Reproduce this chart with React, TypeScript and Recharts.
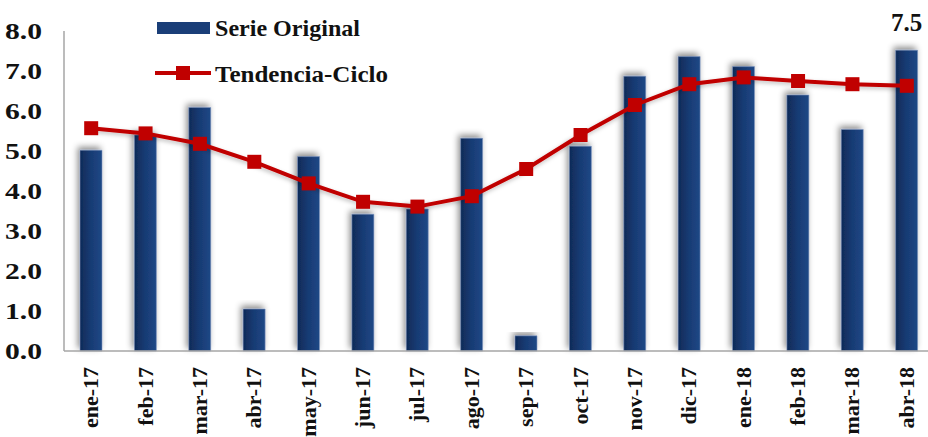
import React from "react";
import {
  ComposedChart,
  Bar,
  Line,
  XAxis,
  YAxis,
  Legend,
  LabelList,
} from "recharts";

const months = [
  "ene-17", "feb-17", "mar-17", "abr-17", "may-17", "jun-17", "jul-17", "ago-17",
  "sep-17", "oct-17", "nov-17", "dic-17", "ene-18", "feb-18", "mar-18", "abr-18",
];
const serieOriginal = [5.02, 5.4, 6.09, 1.05, 4.86, 3.42, 3.55, 5.32, 0.38, 5.12, 6.87, 7.36, 7.11, 6.4, 5.54, 7.52];
const tendenciaCiclo = [5.57, 5.44, 5.18, 4.73, 4.19, 3.73, 3.61, 3.87, 4.55, 5.4, 6.15, 6.67, 6.84, 6.75, 6.67, 6.63];
const yTicks = [0, 1, 2, 3, 4, 5, 6, 7, 8];

const data = months.map((m, i) => ({
  month: m,
  serie: serieOriginal[i],
  tendencia: tendenciaCiclo[i],
}));

const FONT = '"Liberation Serif", "Times New Roman", serif';
const NAVY = "#1a3e78";
const RED = "#c00000";

function XTick({ x, y, payload }: any) {
  return (
    <text
      transform={`translate(${x + 7},${y + 16}) rotate(-90)`}
      textAnchor="end"
      fontFamily={FONT}
      fontWeight="bold"
      fontSize={22}
      fill="#111"
    >
      {payload.value}
    </text>
  );
}

function YTick({ x, y, payload }: any) {
  return (
    <text
      x={x}
      y={y + 8}
      textAnchor="end"
      fontFamily={FONT}
      fontWeight="bold"
      fontSize={23}
      fill="#111"
      textLength={37}
      lengthAdjust="spacingAndGlyphs"
    >
      {Number(payload.value).toFixed(1)}
    </text>
  );
}

function SquareDot({ cx, cy }: any) {
  if (cx == null || cy == null) return null;
  return <rect x={cx - 7} y={cy - 7} width={14} height={14} fill={RED} />;
}

function LastLabel(props: any) {
  const { x, y, width, index, value } = props;
  if (index !== months.length - 1) return null;
  return (
    <text
      x={x + width / 2}
      y={y - 19}
      textAnchor="middle"
      fontFamily={FONT}
      fontWeight="bold"
      fontSize={25}
      fill="#111"
    >
      {Number(value).toFixed(1)}
    </text>
  );
}

function LegendBox() {
  return (
    <svg width={260} height={85} style={{ display: "block" }}>
      <rect x={7} y={12} width={53} height={12} fill={NAVY} />
      <text
        x={65}
        y={26}
        fontFamily={FONT}
        fontWeight="bold"
        fontSize={24}
        fill="#111"
        textLength={145}
        lengthAdjust="spacingAndGlyphs"
      >
        Serie Original
      </text>
      <line x1={5} y1={63} x2={61} y2={63} stroke={RED} strokeWidth={4} />
      <rect x={26} y={56} width={14} height={14} fill={RED} />
      <text
        x={65}
        y={72}
        fontFamily={FONT}
        fontWeight="bold"
        fontSize={24}
        fill="#111"
        textLength={173}
        lengthAdjust="spacingAndGlyphs"
      >
        Tendencia-Ciclo
      </text>
    </svg>
  );
}

export default function App() {
  return (
    <div
      style={{
        position: "absolute",
        left: 0,
        top: 0,
        width: 928,
        height: 437,
        overflow: "hidden",
        background: "#fff",
      }}
    >
      <ComposedChart
        width={934}
        height={437}
        data={data}
        margin={{ top: 31, right: 0, left: 0, bottom: 0 }}
      >
        <defs>
          <linearGradient id="barGrad" x1="0" y1="0" x2="1" y2="0">
            <stop offset="0%" stopColor="#0f2a57" />
            <stop offset="45%" stopColor="#173a72" />
            <stop offset="100%" stopColor="#1f4886" />
          </linearGradient>
          <filter id="barShadow" x="-50%" y="-20%" width="200%" height="140%">
            <feDropShadow dx={-2} dy={-3} stdDeviation={3} floodColor="#000" floodOpacity={0.45} />
          </filter>
          <filter id="lineShadow" x="-10%" y="-30%" width="120%" height="160%">
            <feDropShadow dx={-1} dy={2} stdDeviation={2} floodColor="#000" floodOpacity={0.25} />
          </filter>
        </defs>
        <XAxis
          dataKey="month"
          interval={0}
          tick={<XTick />}
          tickLine={false}
          tickSize={0}
          tickMargin={0}
          axisLine={{ stroke: "#a6a6a6", strokeWidth: 1.5 }}
          height={86}
        />
        <YAxis
          domain={[0, 8]}
          ticks={yTicks}
          interval={0}
          width={64}
          tickLine={false}
          tickSize={0}
          tickMargin={22}
          axisLine={{ stroke: "#a6a6a6", strokeWidth: 1.5 }}
          tick={<YTick />}
        />
        <Legend
          layout="horizontal"
          verticalAlign="middle"
          align="center"
          content={() => <LegendBox />}
          wrapperStyle={{ position: "absolute", left: 150, top: 10, width: 260, height: 85 }}
        />
        <Bar
          dataKey="serie"
          name="Serie Original"
          barSize={22}
          fill="url(#barGrad)"
          stroke="#7f96bd"
          strokeWidth={0.6}
          filter="url(#barShadow)"
          isAnimationActive={false}
        >
          <LabelList dataKey="serie" content={LastLabel} />
        </Bar>
        <Line
          dataKey="tendencia"
          name="Tendencia-Ciclo"
          type="linear"
          stroke={RED}
          strokeWidth={4}
          dot={<SquareDot />}
          activeDot={false}
          filter="url(#lineShadow)"
          isAnimationActive={false}
        />
      </ComposedChart>
    </div>
  );
}
